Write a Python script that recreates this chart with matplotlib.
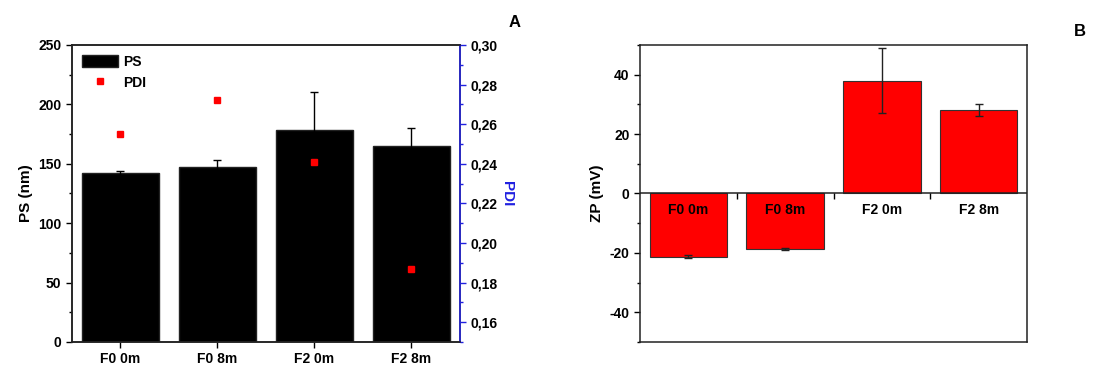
import numpy as np
import matplotlib
matplotlib.use("Agg")
import matplotlib.pyplot as plt
from matplotlib.ticker import MultipleLocator, FuncFormatter

# Particle size / PDI / zeta potential for the four samples
samples = ["F0 0m", "F0 8m", "F2 0m", "F2 8m"]
ps_mean = [142, 147, 178, 165]
ps_err = [2, 6, 32, 15]
pdi = [0.255, 0.272, 0.241, 0.187]
zp_mean = [-21.3, -18.7, 38.0, 28.0]
zp_err = [0.5, 0.3, 11.0, 2.0]

plt.rcParams["font.family"] = ["Liberation Sans", "DejaVu Sans"]
plt.rcParams["font.weight"] = "bold"
plt.rcParams["font.size"] = 10
plt.rcParams["axes.labelweight"] = "bold"
plt.rcParams["axes.linewidth"] = 1.1
plt.rcParams["axes.edgecolor"] = "#222222"
plt.rcParams["axes.unicode_minus"] = False

x = np.arange(1, len(samples) + 1)

fig = plt.figure(figsize=(10.97, 3.69), dpi=100)
axA = fig.add_axes([0.0656, 0.0732, 0.3537, 0.805])
axB = fig.add_axes([0.5834, 0.0732, 0.3528, 0.805])

# ---- panel A: PS bars + PDI points on a second axis
axA.bar(x, ps_mean, width=0.8, color="black", edgecolor="#222222", label="PS", zorder=2)
axA.errorbar(x, ps_mean, yerr=ps_err, fmt="none", ecolor="black",
             elinewidth=1.0, capsize=3, capthick=1.0, zorder=3)
axA.set_xlim(0.5, 4.5)
axA.set_ylim(0, 250)
axA.set_xticks(x)
axA.set_xticklabels(samples)
axA.yaxis.set_major_locator(MultipleLocator(50))
axA.yaxis.set_minor_locator(MultipleLocator(25))
axA.tick_params(axis="both", which="both", direction="out", top=False, right=False)
axA.tick_params(axis="both", which="major", length=4, width=1.0)
axA.tick_params(axis="y", which="minor", length=2.5, width=1.0)
axA.set_ylabel("PS (nm)", fontsize=11)

axA2 = axA.twinx()
axA2.plot(x, pdi, "s", color="red", markersize=4, linestyle="none", label="PDI", zorder=4)
axA2.set_ylim(0.15, 0.30)
axA2.yaxis.set_major_locator(MultipleLocator(0.02))
axA2.yaxis.set_minor_locator(MultipleLocator(0.01))
axA2.yaxis.set_major_formatter(FuncFormatter(lambda v, p: f"{v:.2f}".replace(".", ",")))
axA2.spines["right"].set_color("#2020e0")
axA2.spines["right"].set_linewidth(1.1)
axA2.tick_params(axis="y", which="both", direction="out", colors="#2020e0", labelcolor="black")
axA2.tick_params(axis="y", which="major", length=4, width=1.0)
axA2.tick_params(axis="y", which="minor", length=2.5, width=1.0)
axA2.set_ylabel("PDI", color="#2020e0", rotation=270, labelpad=12, fontsize=11)

h1, l1 = axA.get_legend_handles_labels()
h2, l2 = axA2.get_legend_handles_labels()
axA.legend(h1 + h2, l1 + l2, loc="upper left", frameon=False, fontsize=10,
           handlelength=2.6, handleheight=1.0, handletextpad=0.4,
           borderaxespad=0.3, labelspacing=0.5)
fig.text(0.469, 0.94, "A", fontsize=12, fontweight="bold", ha="center", va="center")

# ---- panel B: zeta potential bars with category axis at zero
axB.bar(x, zp_mean, width=0.8, color="#ff0000", edgecolor="#333333", linewidth=0.8, zorder=2)
axB.errorbar(x, zp_mean, yerr=zp_err, fmt="none", ecolor="#222222",
             elinewidth=1.0, capsize=3, capthick=1.0, zorder=3)
axB.axhline(0, color="#222222", linewidth=1.1, zorder=4)
axB.set_xlim(0.5, 4.5)
axB.set_ylim(-50, 50)
axB.set_xticks([])
axB.yaxis.set_major_locator(MultipleLocator(20))
axB.yaxis.set_minor_locator(MultipleLocator(10))
axB.tick_params(axis="y", which="both", direction="out", right=False)
axB.tick_params(axis="y", which="major", length=4, width=1.0)
axB.tick_params(axis="y", which="minor", length=2.5, width=1.0)
axB.set_ylabel("ZP (mV)", fontsize=11)

zero_ax = axB.secondary_xaxis(0, transform=axB.transData)
zero_ax.set_zorder(5)
zero_ax.spines["bottom"].set_visible(False)
zero_ax.set_xticks(x)
zero_ax.set_xticklabels(samples)
zero_ax.set_xticks(x[:-1] + 0.5, minor=True)
zero_ax.tick_params(axis="x", which="major", length=0, pad=7)
zero_ax.tick_params(axis="x", which="minor", direction="out", length=4, width=1.0)
fig.text(0.984, 0.915, "B", fontsize=12, fontweight="bold", ha="center", va="center")

fig.savefig("out.png", dpi=100)
